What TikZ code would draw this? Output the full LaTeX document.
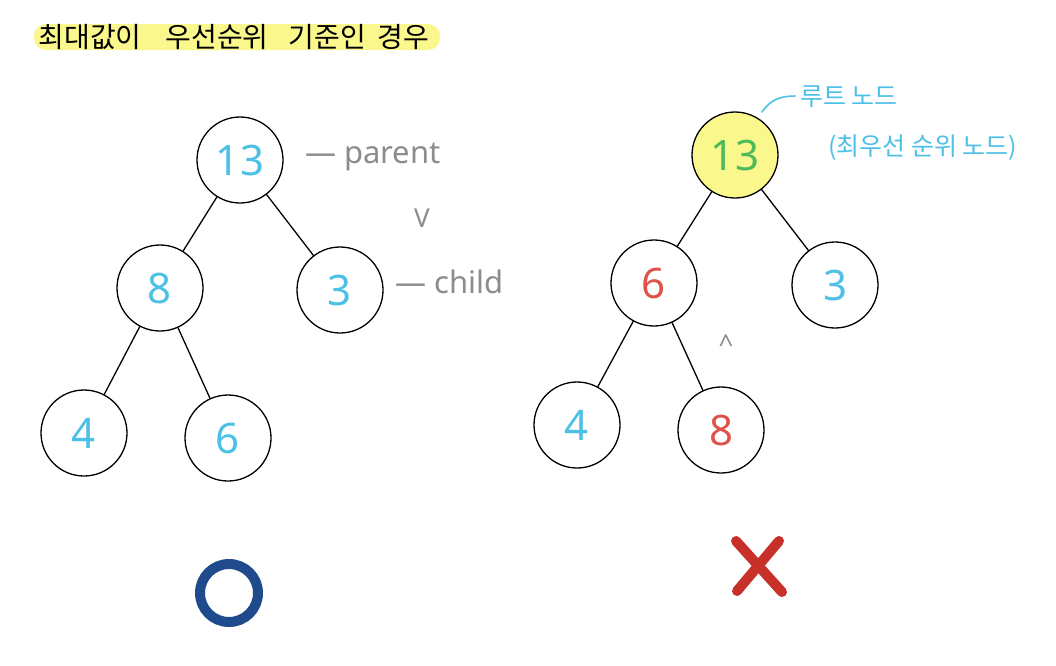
\documentclass[tikz,border=0pt]{standalone}
\usepackage{fontspec}
\setmainfont{Noto Sans}
\newfontfamily\kr{Noto Sans CJK KR}
\definecolor{numblue}{HTML}{4CC0E6}
\definecolor{numred}{HTML}{E0524C}
\definecolor{numgreen}{HTML}{4DBB5A}
\definecolor{hl}{HTML}{FAF78C}
\definecolor{graytxt}{HTML}{8C8C8C}
\definecolor{okblue}{HTML}{1F4A8C}
\definecolor{xred}{HTML}{C8302A}
\tikzset{
  hnode/.style={circle,draw=black,line width=1.3pt,minimum size=86pt,inner sep=0pt,
    font=\fontsize{42}{42}\selectfont,text=numblue},
  redn/.style={text=numred},
  edge/.style={line width=1.3pt,black,line cap=round},
  note/.style={text=graytxt,font=\fontsize{31}{31}\selectfont,inner sep=0pt,anchor=west},
  bluenote/.style={text=numblue,font=\kr\fontsize{25}{25}\selectfont,inner sep=0pt},
}
\begin{document}
\begin{tikzpicture}[x=1pt,y=-1pt]
\useasboundingbox (0,0) rectangle (1056,665);
\fill[white] (0,0) rectangle (1056,665);
% title
\fill[hl,rounded corners=12pt] (34,24) rectangle (440,50);
\node[inner sep=0pt,font=\kr\fontsize{28}{28}\selectfont] (title) at (234,37)
  {최대값이\hspace{24pt}우선순위\hspace{20pt}기준인\hspace{12pt}경우};
% left tree
\node[hnode] (a1) at (240,160) {13};
\node[hnode] (a2) at (160,288) {8};
\node[hnode] (a3) at (340,290) {3};
\node[hnode] (a4) at (84,433) {4};
\node[hnode] (a5) at (228,438) {6};
\draw[edge] (a1) -- (a2);
\draw[edge] (a1) -- (a3);
\draw[edge] (a2) -- (a4);
\draw[edge] (a2) -- (a5);
\node[note] (parent) at (305,157) {— parent};
\node[text=graytxt,font=\fontsize{26}{26}\selectfont,inner sep=0pt] (vmark) at (422,218) {V};
\node[note] (child) at (395,282) {— child};
% right tree
\node[hnode,fill=hl,text=numgreen] (b1) at (735,155) {13};
\node[hnode,redn] (b2) at (654,283) {6};
\node[hnode] (b3) at (835,285) {3};
\node[hnode] (b4) at (577,425) {4};
\node[hnode,redn] (b5) at (721,430) {8};
\draw[edge] (b1) -- (b2);
\draw[edge] (b1) -- (b3);
\draw[edge] (b2) -- (b4);
\draw[edge] (b2) -- (b5);
\node[text=graytxt,font=\fontsize{26}{26}\selectfont,inner sep=0pt] (caret) at (726,344) {\^{}};
\node[bluenote,anchor=west] (root) at (800,97) {루트 노드};
\node[bluenote,anchor=west] (rootsub) at (828,148) {(최우선 순위 노드)};
\coordinate (cs) at (762,112);
\draw[numblue,line width=1.6pt,line cap=round] (cs) .. controls (770,100) and (780,96) .. (795,96);
% marks
\draw[okblue,line width=10pt] (229,593) circle (29pt);
\coordinate (x1) at (736,541);
\coordinate (x2) at (782,592);
\coordinate (x3) at (779,541);
\coordinate (x4) at (737,591);
\draw[xred,line width=10pt,line cap=round] (x1) -- (x2);
\draw[xred,line width=10pt,line cap=round] (x3) -- (x4);
\end{tikzpicture}
\end{document}
